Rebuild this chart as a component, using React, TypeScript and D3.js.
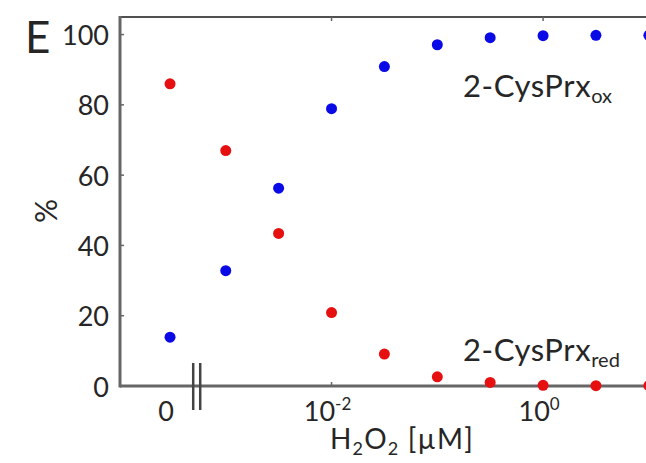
import React from "react";
import * as d3 from "d3";

// H2O2 concentration (µM); 0 is plotted left of the axis break
const concentrations = [0, 0.001, 0.00316, 0.01, 0.0316, 0.1, 0.316, 1, 3.16, 10];
const oxidized = [13.9, 32.8, 56.3, 78.9, 90.9, 97.1, 99.1, 99.7, 99.8, 99.8];
const reduced = [86, 67, 43.4, 20.9, 9.1, 2.6, 1.0, 0.2, 0.1, 0.1];
const yTicks = [0, 20, 40, 60, 80, 100];
const xLogTicks = [0.01, 1];
const xLogTickExp = ["-2", "0"];

const W = 646;
const H = 463;
const FONT = "Lato, 'Open Sans', sans-serif";
const TXT = "#262626";
const AX = "#666";

export default function App() {
  const left = 120;
  const bottom = 386;
  const top = 17;
  const x = d3.scaleLog().domain([1e-4, Math.pow(10, 1.2)]).range([left, 670]);
  const y = d3.scaleLinear().domain([0, 105]).range([bottom, top]);
  // stand-in position for the zero concentration, and for the axis break
  const zeroStandIn = Math.pow(10, -3.527);
  const breakStandIn = Math.pow(10, -3.27);
  const px = (c: number) => (c === 0 ? x(zeroStandIn) : x(c));
  const bx = x(breakStandIn);

  return (
    <div style={{ position: "fixed", left: 0, top: 0 }}>
      <svg width={W} height={H} style={{ display: "block", background: "#fff" }}>
        {/* frame */}
        <line x1={left} x2={W + 10} y1={top} y2={top} stroke="#505050" strokeWidth={2} />
        <line x1={left} x2={left} y1={top - 1} y2={bottom + 1.5} stroke={AX} strokeWidth={3} />
        <line x1={left} x2={W + 10} y1={bottom} y2={bottom} stroke={AX} strokeWidth={3} />

        {/* y ticks */}
        {yTicks.map((t) => (
          <g key={"y" + t}>
            {t > 0 && (
              <line x1={left} x2={left + 4} y1={y(t)} y2={y(t)} stroke={AX} strokeWidth={1.5} />
            )}
            <text
              x={109}
              y={y(t)}
              textAnchor="end"
              dominantBaseline="central"
              fontFamily={FONT}
              fontSize={27}
              fill={TXT}
            >
              {t}
            </text>
          </g>
        ))}

        {/* x ticks */}
        {xLogTicks.map((t, i) => (
          <g key={"x" + t}>
            <line x1={x(t)} x2={x(t)} y1={bottom} y2={bottom - 4} stroke={AX} strokeWidth={1.5} />
            <line x1={x(t)} x2={x(t)} y1={top} y2={top + 4} stroke={AX} strokeWidth={1.5} />
            <text x={x(t) - 4} y={421} textAnchor="middle" fontFamily={FONT} fontSize={27} fill={TXT}>
              10
              <tspan fontSize={17} dy={-11}>
                {xLogTickExp[i]}
              </tspan>
            </text>
          </g>
        ))}
        <text x={px(0) - 4} y={421} textAnchor="middle" fontFamily={FONT} fontSize={27} fill={TXT}>
          0
        </text>

        {/* axis break */}
        <line x1={bx - 4} x2={bx - 4} y1={363} y2={410} stroke="#444" strokeWidth={2.5} />
        <line x1={bx + 3} x2={bx + 3} y1={363} y2={410} stroke="#444" strokeWidth={2.5} />

        {/* axis labels */}
        <text x={330} y={449} fontFamily={FONT} fontSize={28} letterSpacing={1.2} fill={TXT}>
          H
          <tspan fontSize={18} dy={6}>
            2
          </tspan>
          <tspan dy={-6}>O</tspan>
          <tspan fontSize={18} dy={6}>
            2
          </tspan>
          <tspan dy={-6}> [µM]</tspan>
        </text>
        <text
          transform={`translate(57,211) rotate(-90)`}
          textAnchor="middle"
          fontFamily={FONT}
          fontSize={30}
          fill={TXT}
        >
          %
        </text>
        <text x={25} y={53} fontFamily={FONT} fontSize={44} fill={TXT}>
          E
        </text>

        {/* series labels */}
        <text x={463} y={97} fontFamily={FONT} fontSize={31} letterSpacing={0.6} fill={TXT}>
          2-CysPrx
          <tspan fontSize={20} dy={6} letterSpacing={0}>
            ox
          </tspan>
        </text>
        <text x={463} y={361} fontFamily={FONT} fontSize={31} letterSpacing={0.6} fill={TXT}>
          2-CysPrx
          <tspan fontSize={20} dy={6} letterSpacing={0}>
            red
          </tspan>
        </text>

        {/* points */}
        {concentrations.map((c, i) => (
          <circle key={"o" + i} cx={px(c)} cy={y(oxidized[i])} r={5.5} fill="#0a0ae6" />
        ))}
        {concentrations.map((c, i) => (
          <circle key={"r" + i} cx={px(c)} cy={y(reduced[i])} r={5.5} fill="#e61010" />
        ))}
      </svg>
    </div>
  );
}
